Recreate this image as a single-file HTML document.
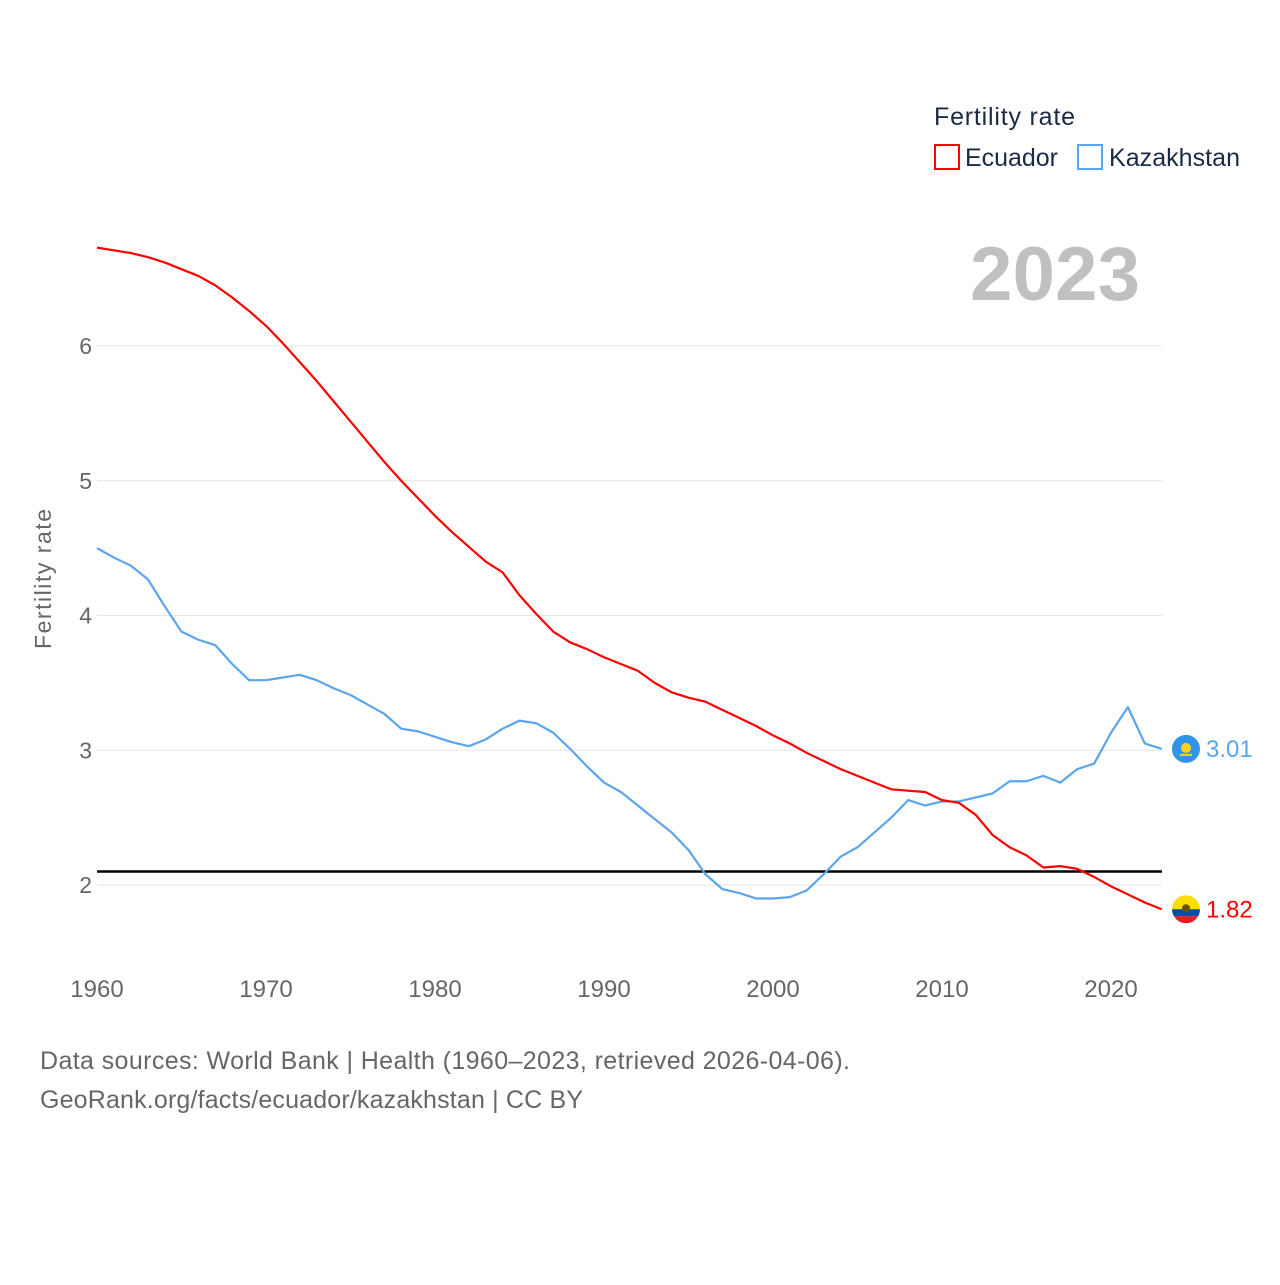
<!DOCTYPE html>
<html><head><meta charset="utf-8"><style>
body{margin:0;background:#fff;font-family:"Liberation Sans",sans-serif;}
svg text{font-family:"Liberation Sans",sans-serif;}
</style></head><body>
<svg id="chart" width="1280" height="1280" viewBox="0 0 1280 1280" xmlns="http://www.w3.org/2000/svg">
<text x="934" y="125" font-size="25" fill="#1a2a44" textLength="141">Fertility rate</text>
<g><rect x="935" y="145" width="24" height="24" fill="none" stroke="#ff0000" stroke-width="2"/><text x="965" y="166" font-size="25" fill="#1a2a44" textLength="93">Ecuador</text></g>
<g><rect x="1078" y="145" width="24" height="24" fill="none" stroke="#5aa5ee" stroke-width="2"/><text x="1109" y="166" font-size="25" fill="#1a2a44" textLength="131">Kazakhstan</text></g>
<text x="1140" y="300" font-size="76" font-weight="bold" fill="#c0c0c0" text-anchor="end" textLength="170">2023</text>
<text transform="translate(51,579) rotate(-90)" font-size="23" fill="#666" text-anchor="middle" textLength="140">Fertility rate</text>
<g id="grid"></g><g id="series"></g>
<text x="40" y="1069" font-size="25" fill="#666" textLength="810">Data sources: World Bank | Health (1960–2023, retrieved 2026-04-06).</text>
<text x="40" y="1108" font-size="25" fill="#666" textLength="543">GeoRank.org/facts/ecuador/kazakhstan | CC BY</text>
</svg>
<script>
const years=[];for(let y=1960;y<=2023;y++)years.push(y);
const ecuador=[6.73,6.71,6.69,6.66,6.62,6.57,6.52,6.45,6.36,6.26,6.15,6.02,5.88,5.74,5.59,5.44,5.29,5.14,5.00,4.87,4.74,4.62,4.51,4.40,4.32,4.15,4.01,3.88,3.80,3.75,3.69,3.64,3.59,3.50,3.43,3.39,3.36,3.30,3.24,3.18,3.11,3.05,2.98,2.92,2.86,2.81,2.76,2.71,2.70,2.69,2.63,2.61,2.52,2.37,2.28,2.22,2.13,2.14,2.12,2.06,1.99,1.93,1.87,1.82];
const kazakhstan=[4.50,4.43,4.37,4.27,4.07,3.88,3.82,3.78,3.64,3.52,3.52,3.54,3.56,3.52,3.46,3.41,3.34,3.27,3.16,3.14,3.10,3.06,3.03,3.08,3.16,3.22,3.20,3.13,3.01,2.88,2.76,2.69,2.59,2.49,2.39,2.26,2.08,1.97,1.94,1.90,1.90,1.91,1.96,2.08,2.21,2.28,2.39,2.50,2.63,2.59,2.62,2.62,2.65,2.68,2.77,2.77,2.81,2.76,2.86,2.90,3.13,3.32,3.05,3.01];
const yTicks=[2,3,4,5,6];
const xTicks=[1960,1970,1980,1990,2000,2010,2020];
const replacement=2.1;
const NS="http://www.w3.org/2000/svg";
const X=y=>97+(y-1960)*16.9, Y=v=>885-(v-2)*134.75;
const grid=document.getElementById('grid'),series=document.getElementById('series');
function mk(tag,attrs,parent){const e=document.createElementNS(NS,tag);for(const k in attrs)e.setAttribute(k,attrs[k]);parent.appendChild(e);return e;}
yTicks.forEach(t=>{
 const l=mk('line',{x1:97,x2:1162,y1:Y(t),y2:Y(t),stroke:'#e6e6e6','stroke-width':1},grid);
 
 
 const tx=mk('text',{x:92,y:Y(t)+8,'font-size':23,fill:'#666','text-anchor':'end'},grid);tx.textContent=t;
 
 
});
xTicks.forEach(t=>{
 const tx=mk('text',{x:X(t),y:997,'font-size':24,fill:'#666','text-anchor':'middle'},grid);tx.textContent=t;
 
 
});
const rl=mk('line',{x1:97,x2:1162,y1:Y(replacement),y2:Y(replacement),stroke:'#000','stroke-width':2.5},series);


function line(data,color,name,flag){
 const p=mk('polyline',{points:data.map((v,i)=>X(years[i])+','+Y(v)).join(' '),fill:'none',stroke:color,'stroke-width':2.2,'stroke-linejoin':'round'},series);
 
 
 const last=data[data.length-1];
 const cy=Y(last);
 const g=mk('g',{},series);
 
 
 if(flag==='kz'){
  mk('circle',{cx:1186,cy:cy,r:14,fill:'#2f95ea'},g);
  mk('circle',{cx:1186,cy:cy-1,r:5,fill:'#ffd21f'},g);
  mk('rect',{x:1180,y:cy+5,width:12,height:2,fill:'#ffd21f'},g);
 }else{
  mk('clipPath',{id:'ecclip'},g).appendChild(document.createElementNS(NS,'circle'));
  const cc=g.querySelector('#ecclip circle');cc.setAttribute('cx',1186);cc.setAttribute('cy',cy);cc.setAttribute('r',14);
  mk('rect',{x:1172,y:cy-14,width:28,height:14,fill:'#ffdd00','clip-path':'url(#ecclip)'},g);
  mk('rect',{x:1172,y:cy,width:28,height:7,fill:'#034ea2','clip-path':'url(#ecclip)'},g);
  mk('rect',{x:1172,y:cy+7,width:28,height:7,fill:'#ed1c24','clip-path':'url(#ecclip)'},g);
  mk('circle',{cx:1186,cy:cy-1,r:4,fill:'#6b4a2a'},g);
 }
 const t=mk('text',{x:1206,y:cy+8,'font-size':24,fill:color},series);t.textContent=last.toFixed(2);
 
 
}
line(kazakhstan,'#5aa5ee','kazakhstan','kz');
line(ecuador,'#ff0000','ecuador','ec');
</script>
</body></html>
